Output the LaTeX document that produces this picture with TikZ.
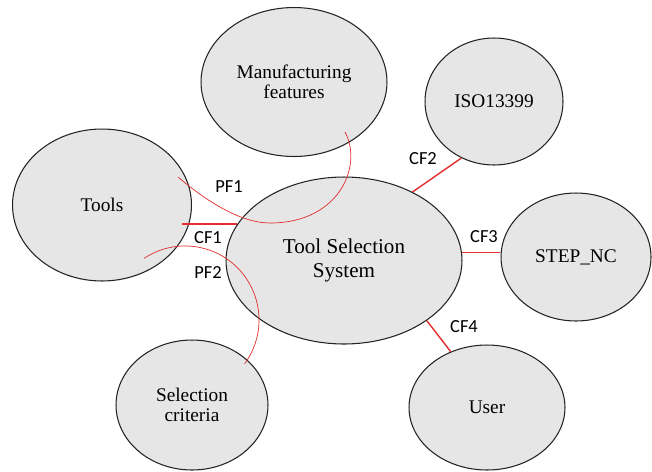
\documentclass[tikz,border=0pt]{standalone}
\usepackage{fontspec}
\setmainfont{Liberation Serif}
\newfontfamily\flowfont{Carlito}
\usetikzlibrary{shapes.geometric}
\definecolor{bubblefill}{RGB}{230,230,230}
\definecolor{bubbleline}{RGB}{35,35,35}
\definecolor{linkred}{RGB}{225,45,45}
\begin{document}
\begin{tikzpicture}[x=0.02cm,y=-0.02cm,
  bubble/.style={ellipse, draw=bubbleline, fill=bubblefill, line width=0.6pt,
    inner sep=0pt, align=center, font=\fontsize{11}{11.5}\selectfont},
  cflink/.style={draw=linkred, line width=0.8pt},
  pflink/.style={draw=linkred, line width=0.4pt},
  flowlabel/.style={font=\flowfont\fontsize{10.5}{12}\selectfont, inner sep=0pt}]
\useasboundingbox (0,0) rectangle (652,471);

% entities
\node[bubble, minimum width=3.72cm, minimum height=2.98cm] (mf)    at (294,82)    {Manufacturing\\features};
\node[bubble, minimum width=2.76cm, minimum height=2.54cm] (iso)   at (494,101.5) {ISO13399};
\node[bubble, minimum width=3.58cm, minimum height=3.04cm] (tools) at (102,205)   {Tools};
\node[bubble, minimum width=4.72cm, minimum height=3.34cm,
      font=\fontsize{12}{13.6}\selectfont]                 (tss)   at (344,260.5) {Tool Selection\\System};
\node[bubble, minimum width=3.00cm, minimum height=2.56cm] (step)  at (576,257)   {STEP\_NC};
\node[bubble, minimum width=3.12cm, minimum height=2.50cm] (user)  at (487,407.5) {User};
\node[bubble, minimum width=3.04cm, minimum height=2.60cm] (sel)   at (192,405)   {Selection\\criteria};

% control flows
\coordinate (cf1end) at (182,224);
\draw[cflink] (tss.161 -| cf1end) -- (tss.161);
\draw[cflink] (tss.45) -- (iso.240);
\draw[cflink] (tss.4) -- (tss.4 -| step.west);
\draw[cflink] (tss.324) -- (user.123);

% product flows
\coordinate (pf1a) at (178,177);
\coordinate (pf1b) at (270,223);
\coordinate (pf1c) at (345,132);
\draw[pflink] (pf1a) .. controls (205,200) and (240,223) .. (pf1b)
                     .. controls (340,223) and (363,165) .. (pf1c);
\coordinate (pf2a) at (144,258.4);
\draw[pflink] (pf2a) arc[start angle=123.7, end angle=-36.4, radius=1.48cm];

% flow labels
\node[flowlabel] (pf1lbl) at (229,187) {PF1};
\node[flowlabel] (cf1lbl) at (208,238) {CF1};
\node[flowlabel] (pf2lbl) at (208,273) {PF2};
\node[flowlabel] (cf2lbl) at (423,159) {CF2};
\node[flowlabel] (cf3lbl) at (484,237) {CF3};
\node[flowlabel] (cf4lbl) at (464,327) {CF4};
\end{tikzpicture}
\end{document}
